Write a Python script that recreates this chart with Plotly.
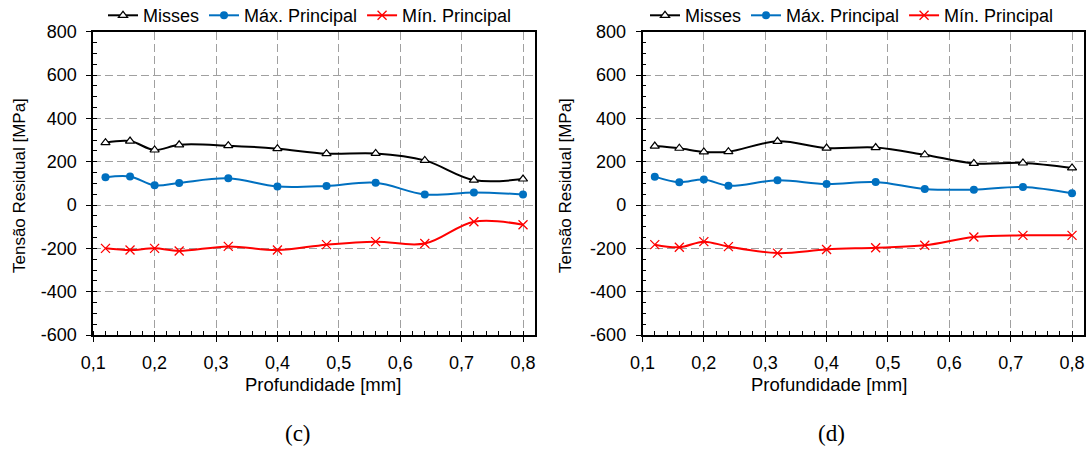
import plotly.graph_objects as go

# Depth positions (mm) shared by both panels
depth = [0.12, 0.16, 0.20, 0.24, 0.32, 0.40, 0.48, 0.56, 0.64, 0.72, 0.80]

# Panel (c) residual stresses [MPa]
misses_c = [288, 295, 254, 278, 274, 260, 237, 238, 206, 115, 120]
max_c = [128, 132, 91, 102, 123, 85, 88, 103, 49, 58, 49]
min_c = [-200, -208, -200, -212, -191, -208, -183, -169, -178, -77, -91]

# Panel (d) residual stresses [MPa]
misses_d = [272, 262, 245, 246, 294, 263, 265, 232, 192, 194, 171]
max_d = [131, 105, 118, 89, 114, 97, 106, 74, 71, 83, 54]
min_d = [-183, -195, -169, -192, -222, -205, -197, -186, -148, -140, -140]

series_names = ["Misses", "Máx. Principal", "Mín. Principal"]

x_ticks = [0.1, 0.2, 0.3, 0.4, 0.5, 0.6, 0.7, 0.8]
x_tick_text = ["0,1", "0,2", "0,3", "0,4", "0,5", "0,6", "0,7", "0,8"]
y_ticks = [-600, -400, -200, 0, 200, 400, 600, 800]
y_tick_text = ["-600", "-400", "-200", "0", "200", "400", "600", "800"]

x_title = "Profundidade [mm]"
y_title = "Tensão Residual [MPa]"
captions = ["(c)", "(d)"]

FONT = "Liberation Sans, Arial, sans-serif"
TICK_FS = 18
W, H = 1089, 453
GRID_DASH = "8px,4px"

styles = [
    dict(line=dict(color="black", width=2),
         marker=dict(symbol="triangle-up", size=8, color="white",
                     line=dict(color="black", width=1.2))),
    dict(line=dict(color="#0070C0", width=2),
         marker=dict(symbol="circle", size=8, color="#0070C0")),
    dict(line=dict(color="#FF0000", width=2),
         marker=dict(symbol="x-thin", size=9,
                     line=dict(color="#FF0000", width=1.3))),
]

fig = go.Figure()

panels = [
    ("x", "y", "legend", [misses_c, max_c, min_c]),
    ("x2", "y2", "legend2", [misses_d, max_d, min_d]),
]
for xa, ya, lg, data in panels:
    for name, vals, st in zip(series_names, data, styles):
        fig.add_trace(go.Scatter(
            x=depth, y=vals, name=name, mode="lines+markers",
            line_shape="spline", line=dict(st["line"], smoothing=1.0),
            marker=st["marker"], xaxis=xa, yaxis=ya, legend=lg,
        ))

y_dom = [1 - 335 / H, 1 - 31.7 / H]
x_doms = [[93.2 / W, 535.3 / W], [642.5 / W, 1084.3 / W]]


def xaxis(dom, anchor):
    return dict(
        domain=dom, anchor=anchor, range=[0.1, 0.82],
        tickmode="array", tickvals=x_ticks, ticktext=x_tick_text,
        showline=True, linecolor="black", linewidth=1.5, mirror=True,
        ticks="outside", ticklen=5, tickcolor="black",
        showgrid=True, gridcolor="#a0a0a0", griddash=GRID_DASH, gridwidth=1,
        zeroline=False, ticklabelstandoff=6, automargin=False,
        minor=dict(tick0=0.1, dtick=0.02, ticks="inside", ticklen=4,
                   tickcolor="black", showgrid=False),
        tickfont=dict(family=FONT, size=TICK_FS, color="black"),
    )


def yaxis(anchor):
    return dict(
        domain=y_dom, anchor=anchor, range=[-600, 800],
        tickmode="array", tickvals=y_ticks, ticktext=y_tick_text,
        showline=True, linecolor="black", linewidth=1.5, mirror=True,
        ticks="outside", ticklen=5, tickcolor="black",
        showgrid=True, gridcolor="#a0a0a0", griddash=GRID_DASH, gridwidth=1,
        zeroline=False, ticklabelstandoff=6, automargin=False,
        minor=dict(tick0=-600, dtick=50, ticks="inside", ticklen=4,
                   tickcolor="black", showgrid=False),
        tickfont=dict(family=FONT, size=TICK_FS, color="black"),
    )


legend_common = dict(
    orientation="h", xanchor="center", yanchor="middle", y=1 - 15.6 / H,
    font=dict(family=FONT, size=18, color="black"),
    itemwidth=30, bgcolor="rgba(0,0,0,0)", tracegroupgap=0,
)

titles_x = [323, 828.5]
titles_y_x = [19, 565]
caption_x = [298, 831]
annotations = []
for i in range(2):
    annotations.append(dict(
        text=x_title, x=titles_x[i] / W, y=1 - 384 / H, xref="paper", yref="paper",
        showarrow=False, xanchor="center", yanchor="middle",
        font=dict(family=FONT, size=18.5, color="black")))
    annotations.append(dict(
        text=y_title, x=titles_y_x[i] / W, y=1 - 186 / H, xref="paper", yref="paper",
        showarrow=False, xanchor="center", yanchor="middle", textangle=-90,
        font=dict(family=FONT, size=17, color="black")))
    annotations.append(dict(
        text=captions[i], x=caption_x[i] / W, y=1 - 433 / H, xref="paper", yref="paper",
        showarrow=False, xanchor="center", yanchor="middle",
        font=dict(family="Liberation Serif, Times New Roman, serif", size=23, color="black")))

fig.update_layout(
    width=W, height=H,
    margin=dict(l=0, r=0, t=0, b=0, pad=0, autoexpand=False),
    paper_bgcolor="white", plot_bgcolor="white",
    xaxis=xaxis(x_doms[0], "y"),
    yaxis=yaxis("x"),
    xaxis2=xaxis(x_doms[1], "y2"),
    yaxis2=yaxis("x2"),
    legend=dict(legend_common, x=310 / W),
    legend2=dict(legend_common, x=852 / W),
    annotations=annotations,
    showlegend=True,
)

fig.write_html("out.html")
